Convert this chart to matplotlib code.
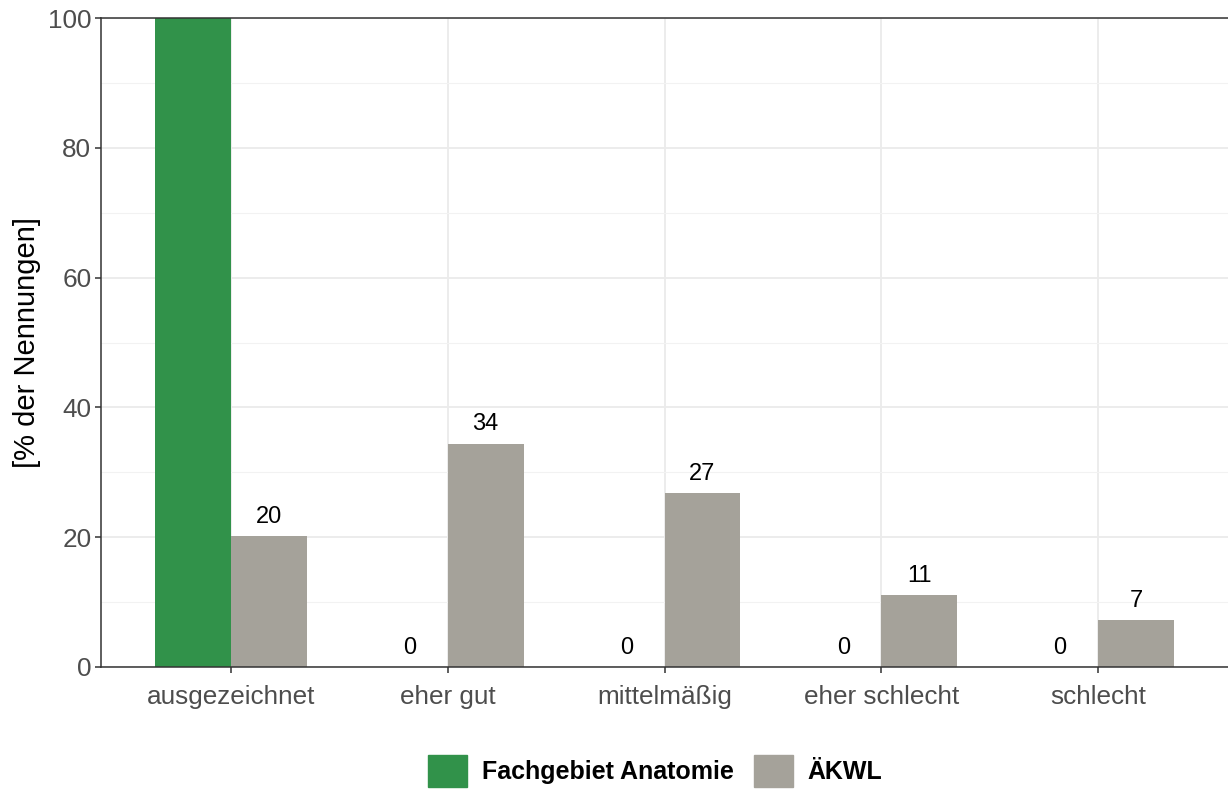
import matplotlib
matplotlib.use("Agg")
import matplotlib.pyplot as plt
from matplotlib.patches import Patch
import numpy as np

categories = ["ausgezeichnet", "eher gut", "mittelmäßig", "eher schlecht", "schlecht"]
series_names = ["Fachgebiet Anatomie", "ÄKWL"]
anatomie = [100, 0, 0, 0, 0]
aekwl = [20.2, 34.4, 26.8, 11.1, 7.2]
colors = ["#31924A", "#A5A29A"]

plt.rcParams['font.family'] = ['Liberation Sans', 'DejaVu Sans']

fig = plt.figure(figsize=(12.28, 7.91), dpi=100)
ax = fig.add_axes([101/1228, 1-667/791, 1-101/1228, (667-18)/791])

x = np.arange(1, len(categories)+1)
w = 0.35
ax.set_axisbelow(True)
for i, (vals, col) in enumerate(zip([anatomie, aekwl], colors)):
    xs = x + (i - 0.5) * w
    ax.bar(xs, vals, width=w, color=col, zorder=2)
    for xi, v in zip(xs, vals):
        if v < 99:
            ax.annotate(f"{round(v):d}", (xi, v), xytext=(0, 6), textcoords="offset points",
                        ha="center", va="bottom", fontsize=17, color="black", zorder=3)

ax.set_xlim(0.4, 5.6)
ax.set_ylim(0, 100)
ax.set_xticks(x)
ax.set_xticklabels(categories)
ax.set_yticks([0, 20, 40, 60, 80, 100])
ax.set_yticks([10, 30, 50, 70, 90], minor=True)
ax.grid(True, which="major", color="#EBEBEB", linewidth=1.3)
ax.grid(True, which="minor", axis="y", color="#F2F2F2", linewidth=0.8)
ax.tick_params(axis="both", which="major", labelsize=18.8, labelcolor="#4D4D4D",
               color="#333333", length=4, width=1.1, pad=3)
ax.tick_params(axis="x", which="major", pad=9)
ax.tick_params(which="minor", length=0)
for s in ["left", "bottom", "top"]:
    ax.spines[s].set_color("#333333")
    ax.spines[s].set_linewidth(1.1)
ax.spines["right"].set_visible(False)
ax.set_ylabel("[% der Nennungen]", fontsize=21, color="black", labelpad=5)

handles = [Patch(color=c, label=n) for c, n in zip(colors, series_names)]
fig.legend(handles=handles, loc="center", bbox_to_anchor=(655/1228, 1-771/791), ncol=2,
           frameon=False, prop={"weight": "bold", "size": 18},
           handlelength=1.56, handleheight=1.56, handletextpad=0.6, columnspacing=0.8,
           borderpad=0.1)

fig.savefig("out.png", dpi=100)
